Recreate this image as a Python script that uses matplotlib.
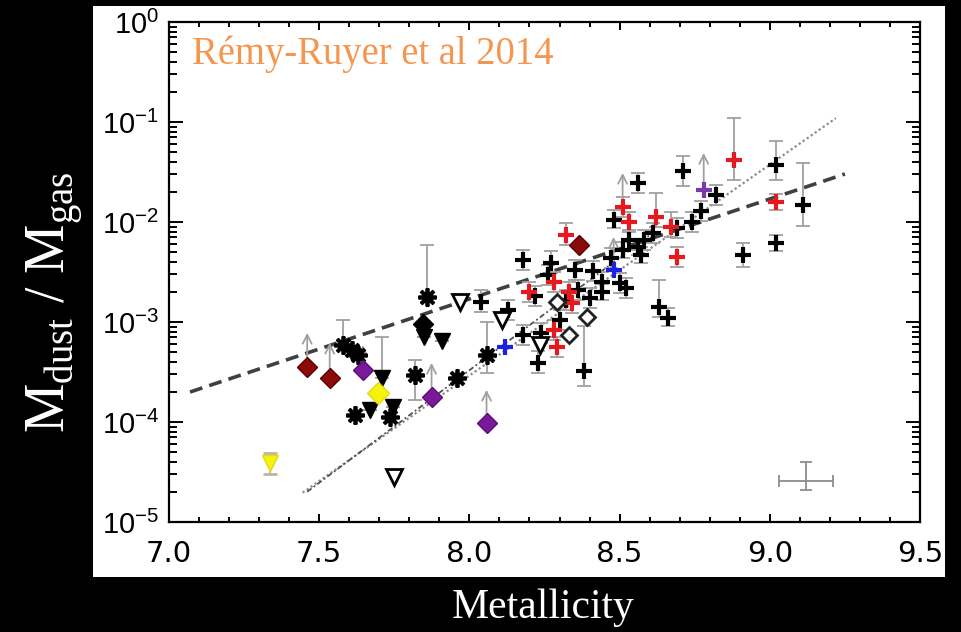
import numpy as np
import matplotlib
matplotlib.use("Agg")
import matplotlib.pyplot as plt
from matplotlib.patches import Rectangle
from matplotlib.ticker import MultipleLocator, LogLocator, NullFormatter, FormatStrFormatter

plt.rcParams['font.family'] = ['Liberation Sans', 'DejaVu Sans']

# ---- galaxies with measured dust (crosses): metallicity, D/G, error (dex below, dex above)
black_z = [8.04, 8.13, 8.18, 8.18, 8.23, 8.26, 8.27, 8.22, 8.35, 8.36, 8.41, 8.44, 8.50,
           8.30, 8.24, 8.38, 8.56, 8.48, 8.69, 8.61, 8.58, 8.74, 8.77, 8.82, 8.71, 8.56,
           8.57, 8.51, 8.52, 8.63, 8.66, 8.44, 9.02, 9.11, 9.02, 8.91, 8.32, 8.40, 8.47, 8.53]
black_dg = [1.58e-3, 1.32e-3, 4.2e-3, 7.4e-4, 3.9e-4, 2.95e-3, 3.9e-3, 1.8e-3, 3.3e-3, 2.1e-3,
            3.2e-3, 2.5e-3, 2.45e-3, 1.05e-3, 7.8e-4, 3.2e-4, 2.45e-2, 1.05e-2, 8.7e-3, 7.8e-3,
            6.6e-3, 1.0e-2, 1.3e-2, 1.86e-2, 3.2e-2, 5.6e-3, 4.7e-3, 5.2e-3, 2.2e-3, 1.4e-3,
            1.1e-3, 2.0e-3, 3.7e-2, 1.48e-2, 6.2e-3, 4.7e-3, 1.66e-3, 1.74e-3, 4.4e-3, 6.6e-3]
black_elo = [0.10, 0.10, 0.10, 0.10, 0.10, 0.10, 0.10, 0.10, 0.10, 0.10, 0.10, 0.10, 0.10,
             0.10, 0.10, 0.15, 0.10, 0.08, 0.10, 0.10, 0.10, 0.10, 0.10, 0.10, 0.15, 0.08,
             0.08, 0.08, 0.10, 0.10, 0.08, 0.08, 0.15, 0.21, 0.08, 0.12, 0.10, 0.10, 0.10, 0.10]
black_ehi = [0.12, 0.10, 0.10, 0.10, 0.12, 0.10, 0.12, 0.10, 0.10, 0.10, 0.10, 0.10, 0.10,
             0.10, 0.10, 0.45, 0.10, 0.10, 0.10, 0.10, 0.10, 0.10, 0.10, 0.10, 0.15, 0.08,
             0.08, 0.08, 0.10, 0.27, 0.10, 0.08, 0.24, 0.42, 0.08, 0.12, 0.10, 0.10, 0.10, 0.10]

red_z = [8.32, 8.28, 8.20, 8.33, 8.28, 8.29, 8.34, 8.51, 8.53, 8.62, 8.67, 8.69, 8.88, 9.02]
red_dg = [7.4e-3, 2.5e-3, 2.0e-3, 2.0e-3, 8.3e-4, 5.6e-4, 1.55e-3, 1.4e-2, 1.0e-2, 1.12e-2,
          8.9e-3, 4.5e-3, 4.2e-2, 1.6e-2]
red_elo = [0.10, 0.10, 0.10, 0.10, 0.10, 0.10, 0.10, 0.10, 0.10, 0.10, 0.10, 0.10, 0.20, 0.08]
red_ehi = [0.12, 0.10, 0.10, 0.10, 0.10, 0.10, 0.10, 0.10, 0.10, 0.24, 0.15, 0.10, 0.42, 0.08]

blue_z = [8.12, 8.48]
blue_dg = [5.6e-4, 3.3e-3]
purple_cross_z = [8.78]
purple_cross_dg = [2.1e-2]

# ---- other samples
star_z = [7.58, 7.61, 7.63, 7.62, 7.735, 7.86, 7.82, 7.96, 8.06]
star_dg = [5.9e-4, 5.2e-4, 4.7e-4, 1.17e-4, 1.12e-4, 1.78e-3, 2.95e-4, 2.75e-4, 4.7e-4]
star_elo = [0.0, 0.0, 0.0, 0.0, 0.0, 0.05, 0.25, 0.0, 0.18]
star_ehi = [0.25, 0.0, 0.0, 0.0, 0.0, 0.52, 0.15, 0.0, 0.33]

tri_z = [7.71, 7.67, 7.745, 7.85, 7.91]
tri_dg = [2.75e-4, 1.32e-4, 1.41e-4, 7.1e-4, 6.5e-4]
tri_ehi = [0.41, 0.0, 0.0, 0.0, 0.0]

black_diam_z = [7.845]
black_diam_dg = [9.5e-4]

open_tri_z = [7.97, 8.11, 8.235, 7.75]
open_tri_dg = [1.58e-3, 1.05e-3, 5.9e-4, 2.8e-5]

open_diam_z = [8.29, 8.39, 8.33]
open_diam_dg = [1.58e-3, 1.12e-3, 7.4e-4]

darkred_z = [7.46, 7.535, 8.366]
darkred_dg = [3.55e-4, 2.75e-4, 5.9e-3]

purple_z = [7.645, 7.874, 8.057]
purple_dg = [3.3e-4, 1.78e-4, 9.8e-5]

yellow_z = [7.695, 7.336]
yellow_dg = [1.95e-4, 3.9e-5]
yellow_elo = [0.0, 0.11]
yellow_ehi = [0.0, 0.10]

# lower limits: metallicity, D/G value, arrow tip
limit_z = [7.46, 7.535, 7.645, 7.874, 8.057, 8.51, 8.78, 8.48]
limit_dg = [3.55e-4, 2.75e-4, 3.3e-4, 1.78e-4, 9.8e-5, 1.4e-2, 2.1e-2, 4.7e-3]
limit_tip = [7.8e-4, 6.2e-4, 5.9e-4, 3.9e-4, 2.1e-4, 3.1e-2, 4.9e-2, 7.1e-3]

# typical uncertainty
typ_z = [9.12]
typ_dg = [2.6e-5]
typ_xerr = [0.09]
typ_lo = [2.1e-5]
typ_hi = [4.0e-5]

# scaling relations: log(D/G) = norm + slope * (Z - 8.69)
fit_slope = [1.0, 2.11, 2.25]
fit_norm = [-2.08, -2.08, -1.93]
fit_zmin = [7.07, 7.445, 7.46]
fit_zmax = [9.25, 9.22, 8.60]

x_ticks = [7.0, 7.5, 8.0, 8.5, 9.0, 9.5]

# ---------------------------------------------------------------------------
W, H = 962, 632
fig = plt.figure(figsize=(W / 100, H / 100), dpi=100, facecolor='black')

# white panel behind the plot
fig.add_artist(Rectangle((93 / W, 1 - 577 / H), (945 - 93) / W, (577 - 6) / H,
                         transform=fig.transFigure, facecolor='white', edgecolor='none', zorder=0))

ax = fig.add_axes([169 / W, 1 - 522 / H, (920 - 169) / W, (522 - 22) / H])
ax.set_zorder(1)
ax.set_facecolor('white')
ax.set_yscale('log')
ax.set_xlim(7.0, 9.5)
ax.set_ylim(1e-5, 1.0)

ebc = '#a0a0a0'


def dex_err(vals, lo, hi):
    v = np.asarray(vals)
    return np.vstack([v - v * 10 ** (-np.asarray(lo)), v * 10 ** np.asarray(hi) - v])


# fit lines
styles = [dict(color='#404040', lw=2.6, dashes=(3.6, 2.0)),
          dict(color='#8a8a8a', lw=1.6, linestyle=(0, (1, 1.2))),
          dict(color='#505050', lw=1.3, linestyle=(0, (3, 1.5, 1, 1.5)))]
for s, n, z0, z1, st in zip(fit_slope, fit_norm, fit_zmin, fit_zmax, styles):
    zz = np.array([z0, z1])
    ax.plot(zz, 10 ** (n + s * (zz - 8.69)), zorder=2, **st)

# lower-limit arrows
for z, v, t in zip(limit_z, limit_dg, limit_tip):
    ax.annotate('', xy=(z, t), xytext=(z, v),
                arrowprops=dict(arrowstyle='->', color=ebc, lw=1.3, mutation_scale=16,
                                shrinkA=0, shrinkB=0), zorder=3)

# error bars
eb = dict(fmt='none', ecolor=ebc, elinewidth=1.3, capsize=5, capthick=1.3, zorder=3)
ax.errorbar(black_z, black_dg, yerr=dex_err(black_dg, black_elo, black_ehi), **eb)
ax.errorbar(red_z, red_dg, yerr=dex_err(red_dg, red_elo, red_ehi), **eb)
ax.errorbar(star_z, star_dg, yerr=dex_err(star_dg, star_elo, star_ehi), **eb)
ax.errorbar(tri_z, tri_dg, yerr=dex_err(tri_dg, [0] * len(tri_dg), tri_ehi), **eb)
ax.errorbar(yellow_z, yellow_dg, yerr=dex_err(yellow_dg, yellow_elo, yellow_ehi), fmt='none',
            ecolor='#b8b8a0', elinewidth=1.3, capsize=5, capthick=2, zorder=3)
ax.errorbar(typ_z, typ_dg, xerr=typ_xerr,
            yerr=[np.array(typ_dg) - np.array(typ_lo), np.array(typ_hi) - np.array(typ_dg)],
            fmt='none', ecolor='#8c8c8c', elinewidth=1.3, capsize=4, capthick=1.3, zorder=3)

# markers
cross = dict(marker='+', linestyle='none', ms=12, mew=3, zorder=5)
ax.plot(black_z, black_dg, color='black', **cross)
ax.plot(red_z, red_dg, color='#e8191e', **cross)
ax.plot(blue_z, blue_dg, color='#1b22e0', **cross)
ax.plot(purple_cross_z, purple_cross_dg, color='#7a3aa8', **cross)

ax.plot(star_z, star_dg, linestyle='none', marker=(8, 2, 0), ms=13, mew=2.7,
        color='black', zorder=5)
ax.plot(tri_z, tri_dg, linestyle='none', marker='v', ms=12, color='black',
        mec='black', zorder=5)
ax.plot(black_diam_z, black_diam_dg, linestyle='none', marker='D', ms=10, color='black', zorder=5)
ax.plot(open_tri_z, open_tri_dg, linestyle='none', marker='v', ms=11, mfc='white',
        mec='black', mew=2, zorder=5)
ax.plot(open_diam_z, open_diam_dg, linestyle='none', marker='D', ms=8.5, mfc='white',
        mec='#222222', mew=2, zorder=5)
ax.plot(darkred_z, darkred_dg, linestyle='none', marker='D', ms=10.5, mfc='#8b0a0a',
        mec='#5a0000', mew=1, zorder=6)
ax.plot(purple_z, purple_dg, linestyle='none', marker='D', ms=10.5, mfc='#7a1a9a',
        mec='#5a0f78', mew=1, zorder=6)
ax.plot(yellow_z[:1], yellow_dg[:1], linestyle='none', marker='D', ms=11, mfc='#f6f20a',
        mec='#e0dc10', zorder=6)
ax.plot(yellow_z[1:], yellow_dg[1:], linestyle='none', marker='v', ms=12, mfc='#f6f20a',
        mec='#e0dc10', zorder=6)

# reference label
ax.text(192 / W, 1 - 64 / H, 'Rémy-Ruyer et al 2014', transform=fig.transFigure,
        fontsize=27.8, color='#f4964f', family=['Liberation Serif', 'DejaVu Serif'],
        va='baseline', ha='left', zorder=7)

# axes styling
for sp in ax.spines.values():
    sp.set_linewidth(1.6)
    sp.set_color('black')
ax.set_xticks(x_ticks)
ax.xaxis.set_minor_locator(MultipleLocator(0.1))
ax.xaxis.set_major_formatter(FormatStrFormatter('%.1f'))
ax.yaxis.set_major_locator(LogLocator(base=10, numticks=10))
ax.yaxis.set_minor_locator(LogLocator(base=10, subs=np.arange(2, 10), numticks=10))
ax.yaxis.set_minor_formatter(NullFormatter())
ax.tick_params(axis='both', which='both', direction='in', top=True, right=True,
               width=1.4, colors='black')
ax.tick_params(axis='x', which='major', length=6, pad=13, labelsize=21)
ax.tick_params(axis='x', which='minor', length=3.5)
ax.tick_params(axis='y', which='major', length=10, pad=7, labelsize=21)
ax.tick_params(axis='y', which='minor', length=5.5)
for lab in ax.get_xticklabels():
    lab.set_family(['DejaVu Sans'])

# axis titles on the dark surround
fig.text(55 / W, 1 - 302 / H, r'M$_{\mathregular{dust}}$ / M$_{\mathregular{gas}}$',
         rotation=90, color='white', fontsize=40, ha='center', va='center',
         family=['Liberation Serif', 'DejaVu Serif'])
fig.text(543 / W, 1 - 608 / H, 'Metallicity', color='white', fontsize=30,
         ha='center', va='center', family=['Liberation Serif', 'DejaVu Serif'])

fig.savefig('out.png', dpi=100, facecolor='black')
